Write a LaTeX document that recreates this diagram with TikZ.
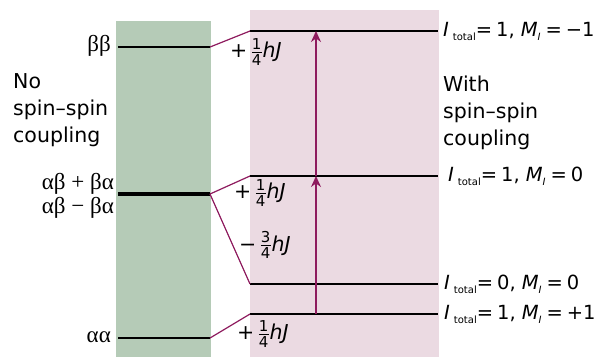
\documentclass[tikz,border=0pt]{standalone}
\usepackage{amsmath}
\usepackage{fontspec}
\setmainfont{DejaVu Sans}
\newfontfamily\greekfont{Liberation Serif}
\usetikzlibrary{arrows.meta,positioning}
\definecolor{levgreen}{HTML}{B5CBB7}
\definecolor{levpink}{HTML}{EBDAE2}
\definecolor{corrc}{HTML}{8E1B5E}
\newcommand{\Itot}{\textit{I}\hspace{4pt}\raisebox{-4pt}{\fontsize{10}{10}\selectfont total}}
\newcommand{\MI}{\textit{M}\raisebox{-4pt}{\fontsize{10}{10}\selectfont\itshape I}}
\newcommand{\st}[2]{\Itot=\hspace{4pt}#1,\hspace{6pt}\MI\hspace{5pt}=\hspace{4pt}#2}
\newcommand{\fr}[1]{\text{\fontsize{15}{15}\selectfont #1}}
\newcommand{\qJ}[2]{#1\,$\frac{\fr{#2}}{\fr{4}}$\textit{hJ}}
\newcommand{\gk}[1]{{\greekfont\fontsize{23}{27}\selectfont #1}}

\begin{document}
\begin{tikzpicture}[x=1pt, y=-1pt, font=\fontsize{20.5}{27}\selectfont,
  lev/.style={line width=2.6pt},
  corr/.style={draw=corrc, line width=1.2pt},
  trans/.style={draw=corrc, line width=1.3pt, -{Stealth[length=11pt,width=10pt]}},
  txt/.style={inner sep=0pt, align=left},
  state/.style={txt, anchor=west, font=\fontsize{19.5}{24}\selectfont}]
\useasboundingbox (0,0) rectangle (595,357);
\fill[levgreen] (116,21) rectangle (211,357);
\fill[levpink] (250,10) rectangle (439,357);
% levels without coupling
\coordinate (bbL) at (118,47);   \coordinate (bbR) at (210,47);
\coordinate (abL) at (118,194);  \coordinate (abR) at (210,194);
\coordinate (aaL) at (118,338);  \coordinate (aaR) at (210,338);
\draw[lev] (bbL) -- (bbR);
\draw[lev, line width=4.6pt] (abL) -- (abR);
\draw[lev] (aaL) -- (aaR);
% levels with coupling
\coordinate (t1L) at (250,31);   \coordinate (t1R) at (438,31);
\coordinate (t0L) at (250,176);  \coordinate (t0R) at (438,176);
\coordinate (sL) at (250,284);   \coordinate (sR) at (438,284);
\coordinate (tpL) at (250,314);  \coordinate (tpR) at (438,314);
\draw[lev] (t1L) -- (t1R);
\draw[lev] (t0L) -- (t0R);
\draw[lev] (sL) -- (sR);
\draw[lev] (tpL) -- (tpR);
\draw[corr] (bbR) -- (t1L);
\draw[corr] (abR) -- (t0L);
\draw[corr] (abR) -- (sL);
\draw[corr] (aaR) -- (tpL);
% transitions
\coordinate (x0) at (316,314);
\coordinate (x1) at (316,176);
\coordinate (x2) at (316,31);
\draw[trans] (x0) -- (x1);
\draw[trans] (x1) -- (x2);
% labels
\node[txt, anchor=east] (lbb) at (111,46) {\gk{ββ}};
\node[txt, anchor=east] (lpl) at (114,184) {\gk{αβ + βα}};
\node[txt, anchor=east] (lmi) at (114,208) {\gk{αβ − βα}};
\node[txt, anchor=east] (laa) at (111,337) {\gk{αα}};
\node[txt, anchor=west] (lno) at (13,110) {No\\spin–spin\\coupling};
\node[txt, anchor=west] (lwi) at (443,113) {With\\spin–spin\\coupling};
\node[txt, anchor=west] (e1) at (230,52) {\qJ{+}{1}};
\node[txt, anchor=west] (e2) at (234,193) {\qJ{+}{1}};
\node[txt, anchor=west] (e3) at (239,245) {\qJ{−}{3}};
\node[txt, anchor=west] (e4) at (237,334) {\qJ{+}{1}};
\node[state] (s1) at (443,31) {\st{1}{−1}};
\node[state] (s2) at (448,176) {\st{1}{0}};
\node[state] (s3) at (444,284) {\st{0}{0}};
\node[state] (s4) at (444,314) {\st{1}{+1}};
\end{tikzpicture}
\end{document}
